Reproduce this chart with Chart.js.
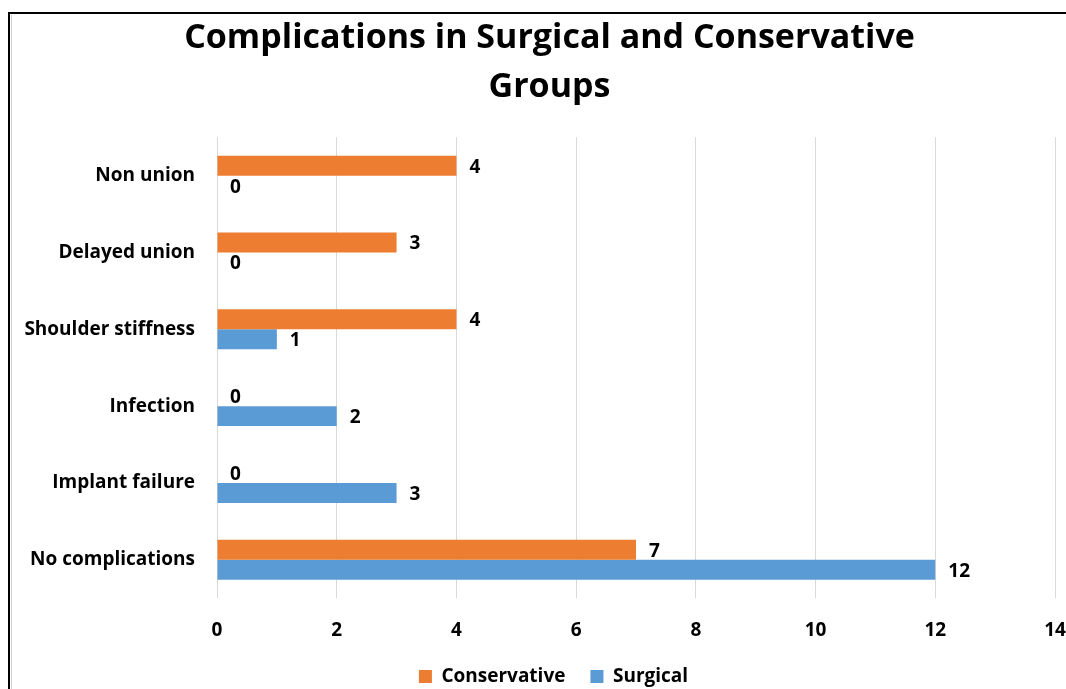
<!DOCTYPE html>
<html>
<head>
<meta charset="utf-8">
<script src="https://cdn.jsdelivr.net/npm/chart.js@4/dist/chart.umd.min.js"></script>
<style>
  html, body { margin: 0; padding: 0; background: #fff; }
  #wrap { width: 1066px; height: 689px; }
</style>
</head>
<body>
<div id="wrap"><canvas id="c" width="1066" height="689"></canvas></div>
<script>
const categories = ["Non union", "Delayed union", "Shoulder stiffness", "Infection", "Implant failure", "No complications"];
const conservative = [4, 3, 4, 0, 0, 7];
const surgical = [0, 0, 1, 2, 3, 12];
const titleLines = ["Complications in Surgical and Conservative", "Groups"];
const FONT = "'Open Sans', Lato, sans-serif";

const framePlugin = {
  id: 'frame',
  beforeDraw(chart) {
    const ctx = chart.ctx;
    ctx.save();
    ctx.fillStyle = '#fff';
    ctx.fillRect(0, 0, chart.width, chart.height);
    ctx.strokeStyle = '#000';
    ctx.lineWidth = 2;
    ctx.beginPath();
    ctx.moveTo(8, 13); ctx.lineTo(1066, 13);
    ctx.moveTo(9, 13); ctx.lineTo(9, 689);
    ctx.stroke();
    ctx.strokeStyle = '#d0d0d0';
    ctx.lineWidth = 1;
    ctx.beginPath();
    ctx.moveTo(11.5, 15); ctx.lineTo(11.5, 689);
    ctx.stroke();
    ctx.restore();
  }
};

const shiftPlugin = {
  id: 'shiftBoxes',
  afterLayout(chart) {
    if (chart.titleBlock) { chart.titleBlock.left += 22; chart.titleBlock.right += 22; }
    if (chart.legend) { chart.legend.left += 26; chart.legend.right += 26; }
  }
};

const labelPlugin = {
  id: 'valueLabels',
  afterDatasetsDraw(chart) {
    const ctx = chart.ctx;
    ctx.save();
    ctx.font = "bold 19px " + FONT;
    ctx.fillStyle = '#000';
    ctx.textAlign = 'left';
    ctx.textBaseline = 'middle';
    chart.data.datasets.forEach((ds, di) => {
      const meta = chart.getDatasetMeta(di);
      meta.data.forEach((el, i) => {
        ctx.fillText(String(ds.data[i]), el.x + 13, el.y + 1.5);
      });
    });
    ctx.restore();
  }
};

new Chart(document.getElementById('c'), {
  type: 'bar',
  data: {
    labels: categories,
    datasets: [
      { label: 'Conservative', data: conservative, backgroundColor: '#ED7D31', categoryPercentage: 0.52, barPercentage: 1.0 },
      { label: 'Surgical', data: surgical, backgroundColor: '#5B9BD5', categoryPercentage: 0.52, barPercentage: 1.0 }
    ]
  },
  options: {
    indexAxis: 'y',
    responsive: false,
    devicePixelRatio: 1,
    animation: false,
    layout: { padding: { left: 0, right: 11, top: 0, bottom: -7 } },
    scales: {
      x: {
        min: 0, max: 14,
        ticks: { stepSize: 2, color: '#000', font: { family: FONT, size: 19, weight: 'bold' }, padding: 21 },
        grid: { color: '#d9d9d9', drawTicks: false, lineWidth: 1 },
        border: { display: false },
        afterFit(scale) { scale.paddingRight = 11; scale.paddingLeft = 0; scale.height -= 21; }
      },
      y: {
        ticks: { color: '#000', font: { family: FONT, size: 19, weight: 'bold' }, padding: 22 },
        grid: { display: false, drawTicks: false },
        border: { display: false },
        afterFit(scale) { scale.width = 217; }
      }
    },
    plugins: {
      title: {
        display: true,
        text: titleLines,
        color: '#000',
        font: { family: FONT, size: 34, weight: 'bold', lineHeight: 1.46 },
        padding: { top: 13, bottom: 25 }
      },
      legend: {
        position: 'bottom',
        labels: {
          color: '#000',
          font: { family: FONT, size: 19, weight: 'bold' },
          boxWidth: 13, boxHeight: 13,
          padding: 25
        }
      },
      tooltip: { enabled: false }
    }
  },
  plugins: [framePlugin, shiftPlugin, labelPlugin]
});
</script>
</body>
</html>
